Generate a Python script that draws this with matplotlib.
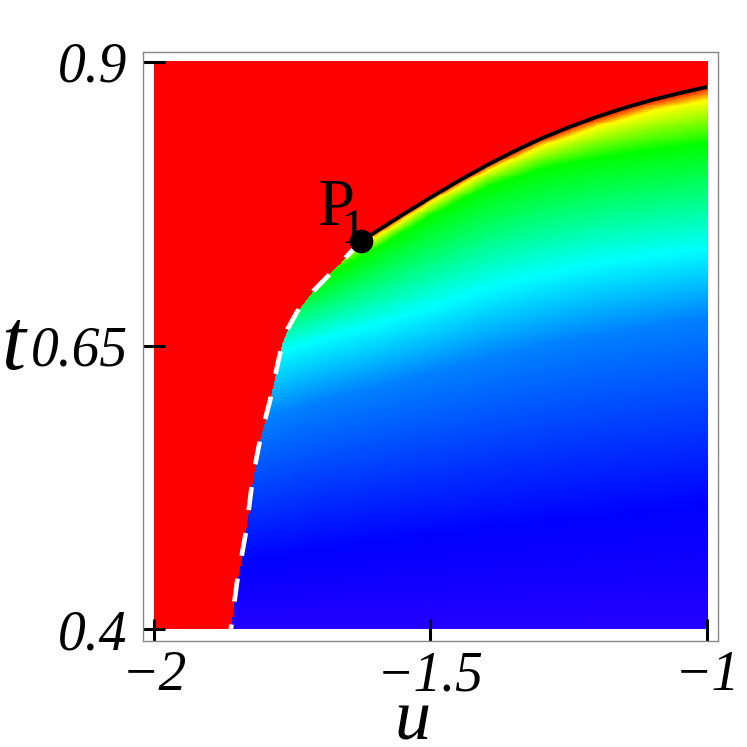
import numpy as np
import matplotlib.pyplot as plt
from matplotlib.colors import hsv_to_rgb

plt.rcParams['font.family'] = ['Liberation Serif', 'DejaVu Serif']

# first-order transition (dashed white), bottom -> P1
first_u = [-1.861, -1.850, -1.834, -1.821, -1.807, -1.790, -1.778, -1.769, -1.758,
           -1.741, -1.712, -1.676, -1.645, -1.625]
first_t = [0.400, 0.441, 0.485, 0.535, 0.570, 0.602, 0.630, 0.650, 0.665,
           0.680, 0.698, 0.716, 0.732, 0.742]

# second-order transition (solid black), P1 -> right edge
second_u = [-1.625, -1.60, -1.55, -1.50, -1.45, -1.40, -1.35, -1.30, -1.25,
            -1.20, -1.15, -1.10, -1.05, -1.00]
second_t = [0.742, 0.750, 0.7655, 0.7805, 0.795, 0.8085, 0.821, 0.8325, 0.8425,
            0.8515, 0.8595, 0.8665, 0.8725, 0.878]

p1_u, p1_t = -1.625, 0.742

# iso-hue lines of the order parameter (t position at each u column)
col_u = [-2.0, -1.9, -1.8, -1.7, -1.6, -1.5, -1.4, -1.3, -1.2, -1.1, -1.0]
level_hue = [0.69, 0.667, 0.583, 0.5, 0.333, 0.167, 0.0]
level_t = [
    [0.40, 0.40, 0.40, 0.40, 0.40, 0.40, 0.40, 0.40, 0.40, 0.40, 0.40],
    [0.45, 0.455, 0.46, 0.468, 0.474, 0.480, 0.486, 0.492, 0.497, 0.502, 0.507],
    [0.56, 0.57, 0.585, 0.60, 0.612, 0.625, 0.637, 0.648, 0.658, 0.666, 0.674],
    [0.62, 0.63, 0.64, 0.655, 0.668, 0.683, 0.700, 0.712, 0.722, 0.729, 0.735],
    [0.66, 0.675, 0.69, 0.708, 0.735, 0.764, 0.789, 0.805, 0.815, 0.822, 0.828],
    [0.71, 0.72, 0.725, 0.73, 0.745, 0.776, 0.803, 0.825, 0.842, 0.856, 0.866],
    [0.72, 0.73, 0.735, 0.74, 0.750, 0.7805, 0.8085, 0.8325, 0.8515, 0.8665, 0.878],
]

xticks = [-2, -1.5, -1]
xticklabels = ['\u22122', '\u22121.5', '\u22121']
yticks = [0.4, 0.65, 0.9]
yticklabels = ['0.4', '0.65', '0.9']

# build hue image
nu, nt = 600, 600
uu = np.linspace(-2, -1, nu)
tt = np.linspace(0.4, 0.9, nt)
hue = np.zeros((nt, nu))
for j, u in enumerate(uu):
    lev = [np.interp(u, col_u, row) for row in level_t]
    hue[:, j] = np.interp(tt, lev, level_hue)
U, T = np.meshgrid(uu, tt)
edge = np.interp(T, first_t, first_u)
red = np.where(T <= p1_t, U < edge, U < p1_u)
hue[red] = 0.0
rgb = hsv_to_rgb(np.dstack([hue, np.ones_like(hue), np.ones_like(hue)]))

fig = plt.figure(figsize=(7.47, 7.47), dpi=100)
ax = fig.add_axes([143/747, 1-641/747, 575/747, 589/747])
ax.imshow(rgb, extent=[-2, -1, 0.4, 0.9], origin='lower', aspect='auto',
          interpolation='nearest')

ax.plot(first_u[::-1], first_t[::-1], color='white', lw=3.4, dashes=(4.9, 4.9))
ax.plot(second_u, second_t, color='black', lw=2.8, solid_capstyle='butt')
ax.plot(p1_u, p1_t, 'o', color='black', ms=16)
ax.text(-1.705, 0.7565, 'P', fontsize=48, ha='left', va='baseline')
ax.text(-1.662, 0.7405, '1', fontsize=36, ha='left', va='baseline')

ax.set_xlim(-2 - 11/553, -1 + 11/553)
ax.set_ylim(0.4 - 12/1136, 0.9 + 10/1136)
ax.set_xticks(xticks)
ax.set_xticklabels(xticklabels, fontsize=40, fontstyle='italic')
ax.set_yticks(yticks)
ax.set_yticklabels(yticklabels, fontsize=40, fontstyle='italic')
ax.tick_params(axis='x', direction='in', length=16, width=2.2, pad=6.5)
ax.tick_params(axis='y', direction='in', length=16, width=2.2, pad=11)
for s in ax.spines.values():
    s.set_color('#888888')
    s.set_linewidth(1.0)

fig.text(1/747, 1-369/747, 't', fontsize=62, fontstyle='italic', ha='left', va='baseline')
fig.text(412/747, 7/747, 'u', fontsize=52, fontstyle='italic', ha='center', va='baseline')

fig.savefig('out.png', dpi=100)
